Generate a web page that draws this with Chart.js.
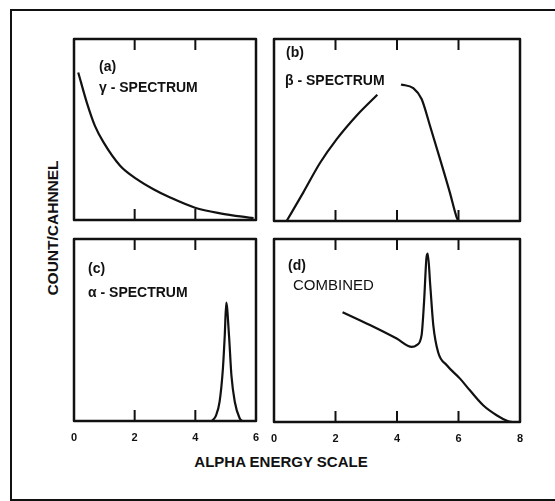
<!DOCTYPE html>
<html>
<head>
<meta charset="utf-8">
<script src="https://cdn.jsdelivr.net/npm/chart.js@4.4.1/dist/chart.umd.min.js"></script>
<style>
  body { margin: 0; background: #fff; width: 555px; height: 501px; overflow: hidden; position: relative;
         font-family: "Liberation Sans", Arial, sans-serif; color: #111; }
  .frame { position: absolute; left: 10px; top: 9px; width: 560px; height: 488px;
           border: 2px solid #111; border-right: none; }
  canvas { position: absolute; }
  .lbl { position: absolute; font-weight: bold; font-size: 14px; line-height: 16px; white-space: nowrap; }
  .xtitle { position: absolute; left: 181px; width: 200px; top: 453px; text-align: center;
            font-weight: bold; font-size: 15px; line-height: 18px; white-space: nowrap; }
  .ytitle { position: absolute; left: 53px; top: 228px; transform: translate(-50%, -50%) rotate(-90deg);
            font-weight: bold; font-size: 15.5px; line-height: 18px; white-space: nowrap; }
</style>
</head>
<body>
<div class="frame"></div>

<canvas id="panelA" width="194" height="193" style="left:68px;top:33px"></canvas>
<canvas id="panelB" width="258" height="194" style="left:268px;top:33px"></canvas>
<canvas id="panelC" width="194" height="218" style="left:68px;top:233px"></canvas>
<canvas id="panelD" width="258" height="219" style="left:268px;top:233px"></canvas>

<div class="lbl" style="left:99px;top:58px">(a)</div>
<div class="lbl" style="left:99px;top:79px">γ - SPECTRUM</div>
<div class="lbl" style="left:286px;top:44px">(b)</div>
<div class="lbl" style="left:285px;top:72px">β - SPECTRUM</div>
<div class="lbl" style="left:88px;top:260px">(c)</div>
<div class="lbl" style="left:88px;top:284px">α - SPECTRUM</div>
<div class="lbl" style="left:288px;top:257px">(d)</div>
<div class="lbl" style="left:293px;top:277px;font-weight:normal;font-size:15px">COMBINED</div>

<div class="xtitle">ALPHA ENERGY SCALE</div>
<div class="ytitle">COUNT/CAHNNEL</div>

<script>
// spektrumok (x = energia, y = relatív beütés)
const gammaX = [0.14, 0.42, 0.69, 0.97, 1.52, 2.07, 2.62, 3.17, 3.99, 4.82, 5.92];
const gammaY = [0.815, 0.65, 0.52, 0.43, 0.30, 0.226, 0.17, 0.124, 0.068, 0.037, 0.01];

// a felirat miatt a vonal megszakad (null)
const betaX = [0.41, 0.95, 1.5, 2.04, 2.69, 3.36, 3.75, 4.13, 4.53, 4.8, 5.07, 5.4, 5.72, 5.94, 6.0];
const betaY = [0, 0.156, 0.32, 0.45, 0.58, 0.694, null, 0.75, 0.73, 0.67, 0.525, 0.34, 0.156, 0.02, 0];

const alphaX = [4.55, 4.68, 4.8, 4.91, 4.97, 5.02, 5.11, 5.19, 5.3, 5.46, 5.55];
const alphaY = [0, 0.03, 0.106, 0.29, 0.47, 0.65, 0.47, 0.25, 0.106, 0.015, 0];

const combinedX = [2.23, 3.12, 3.99, 4.48, 4.64, 4.8, 4.88, 4.96, 5.0, 5.08, 5.18, 5.34, 5.62, 6.05, 6.37, 6.81, 7.24, 7.62, 7.75];
const combinedY = [0.6, 0.53, 0.456, 0.41, 0.42, 0.475, 0.657, 0.9, 0.92, 0.75, 0.53, 0.38, 0.31, 0.237, 0.173, 0.09, 0.037, 0.004, 0];

// tengely beosztások
const ticks6 = [0, 2, 4, 6];
const ticks8 = [0, 2, 4, 6, 8];

const INK = '#111';

// keret + befelé álló osztásjelek + feliratok alul
const framePlugin = {
  id: 'frame',
  afterDraw(chart) {
    const { ctx, chartArea: a, scales } = chart;
    const opts = chart.options.plugins.frame;
    const vals = opts.ticks;
    ctx.save();
    ctx.strokeStyle = INK;
    ctx.lineWidth = 2.5;
    ctx.lineJoin = 'round';
    ctx.strokeRect(a.left, a.top, a.right - a.left, a.bottom - a.top);
    ctx.lineWidth = 2;
    vals.slice(1, -1).forEach(v => {
      const x = scales.x.getPixelForValue(v);
      ctx.beginPath();
      ctx.moveTo(x, a.top); ctx.lineTo(x, a.top + 11);
      ctx.moveTo(x, a.bottom); ctx.lineTo(x, a.bottom - 11);
      ctx.stroke();
    });
    if (opts.labels) {
      ctx.fillStyle = INK;
      ctx.font = 'bold 11px "Liberation Sans", Arial, sans-serif';
      ctx.textAlign = 'center';
      ctx.textBaseline = 'middle';
      vals.forEach(v => ctx.fillText(String(v), scales.x.getPixelForValue(v), a.bottom + 17));
    }
    ctx.restore();
  }
};

function makePanel(id, xs, ys, tickVals, showLabels) {
  const pts = xs.map((x, i) => ({ x: x, y: ys[i] }));
  const max = tickVals[tickVals.length - 1];
  new Chart(document.getElementById(id), {
    type: 'line',
    data: {
      datasets: [{
        data: pts,
        borderColor: INK,
        borderWidth: 2.2,
        pointRadius: 0,
        fill: false,
        spanGaps: false,
        cubicInterpolationMode: 'monotone'
      }]
    },
    options: {
      responsive: false,
      animation: false,
      layout: { padding: { left: 6, right: 6, top: 6, bottom: showLabels ? 30 : 6 } },
      plugins: {
        legend: { display: false },
        tooltip: { enabled: false },
        frame: { ticks: tickVals, labels: showLabels }
      },
      scales: {
        x: { type: 'linear', min: 0, max: max, display: false },
        y: { type: 'linear', min: 0, max: 1, display: false }
      }
    },
    plugins: [framePlugin]
  });
}

makePanel('panelA', gammaX, gammaY, ticks6, false);
makePanel('panelB', betaX, betaY, ticks8, false);
makePanel('panelC', alphaX, alphaY, ticks6, true);
makePanel('panelD', combinedX, combinedY, ticks8, true);
</script>
</body>
</html>
